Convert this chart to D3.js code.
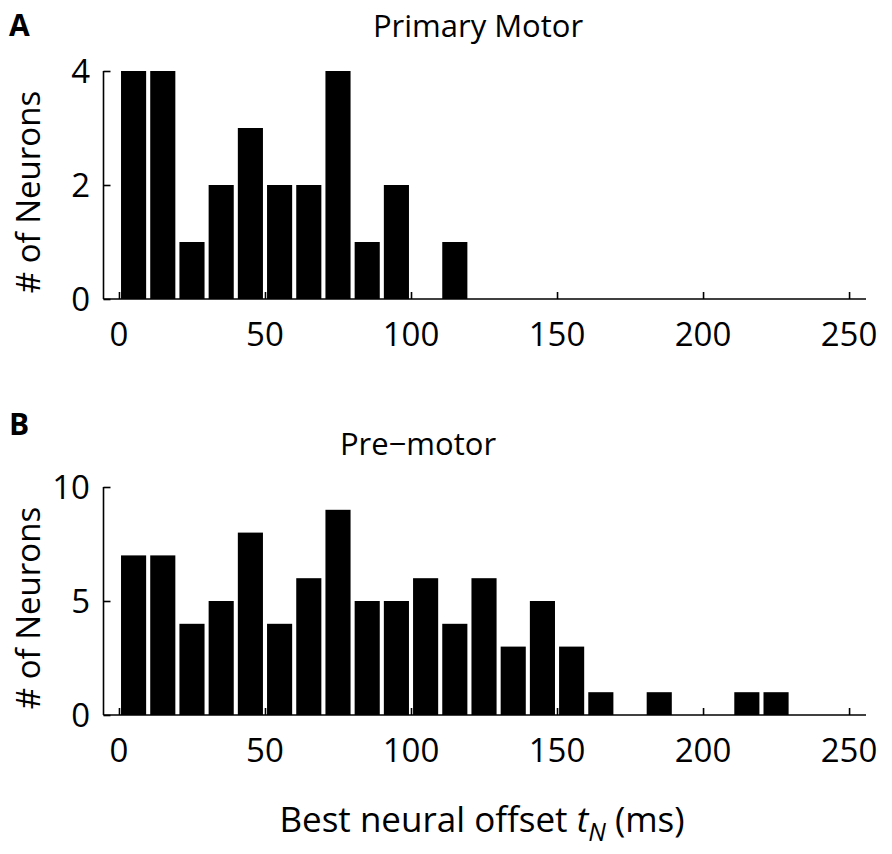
<!DOCTYPE html>
<html>
<head>
<meta charset="utf-8">
<script src="https://cdn.jsdelivr.net/npm/d3@7"></script>
<style>
  body { margin: 0; background: #fff; }
  svg { display: block; font-family: "Open Sans", sans-serif; }
</style>
</head>
<body>
<svg id="chart" width="892" height="854"></svg>
<script>
// histogram bins are 10 ms wide, starting at 0
const binStarts = d3.range(0, 230, 10);
const primaryCounts = [4, 4, 1, 2, 3, 2, 2, 4, 1, 2, 0, 1];
const premotorCounts = [7, 7, 4, 5, 8, 4, 6, 9, 5, 5, 6, 4, 6, 3, 5, 3, 1, 0, 1, 0, 0, 1, 1];
const xTicks = [0, 50, 100, 150, 200, 250];
const primaryTicks = [0, 2, 4];
const premotorTicks = [0, 5, 10];

const svg = d3.select("#chart");
const binWidth = 10;
const x = d3.scaleLinear().domain([-5.3, 255.8]).range([103.5, 866]);

function panel(opts) {
  const y = d3.scaleLinear().domain(opts.ylim).range([opts.bottom, opts.bottom - 228]);
  const g = svg.append("g");

  const bins = opts.counts.map((c, i) => ({ x0: binStarts[i], n: c })).filter(d => d.n > 0);
  const barW = (x(binWidth) - x(0)) * 0.86;

  g.selectAll(".bar")
    .data(bins)
    .join("rect")
    .attr("class", "bar")
    .attr("x", d => x(d.x0 + binWidth / 2) - barW / 2)
    .attr("width", barW)
    .attr("y", d => y(d.n))
    .attr("height", d => y(0) - y(d.n))
    .attr("fill", "#000");

  // ticks point inward like the original
  const xAxis = d3.axisTop(x).tickValues(xTicks).tickSize(7).tickFormat("");
  g.append("g").attr("transform", `translate(0,${y(0)})`).call(xAxis)
    .call(s => s.select(".domain").attr("d", `M${x.range()[0]},0H${x.range()[1]}`));

  const yAxis = d3.axisRight(y).tickValues(opts.yticks).tickSize(7).tickFormat("");
  g.append("g").attr("transform", `translate(${x.range()[0]},0)`).call(yAxis)
    .call(s => s.select(".domain").attr("d", `M0,${y.range()[0]}V${y.range()[1]}`));

  g.selectAll(".domain, .tick line").attr("stroke", "#000").attr("stroke-width", 1.6);

  g.selectAll(".xlab")
    .data(xTicks)
    .join("text")
    .attr("class", "xlab")
    .attr("x", d => x(d))
    .attr("y", y(0) + 47)
    .attr("text-anchor", "middle")
    .attr("font-size", 33)
    .text(d => d);

  g.selectAll(".ylab")
    .data(opts.yticks)
    .join("text")
    .attr("class", "ylab")
    .attr("x", 90)
    .attr("y", d => y(d) + 12)
    .attr("text-anchor", "end")
    .attr("font-size", 33)
    .text(d => d);

  g.append("text")
    .attr("transform", `translate(40,${opts.bottom - 107}) rotate(-90)`)
    .attr("text-anchor", "middle")
    .attr("font-size", 33)
    .text("# of Neurons");

  g.append("text")
    .attr("x", opts.titleX)
    .attr("y", opts.titleY)
    .attr("text-anchor", "middle")
    .attr("font-size", 31)
    .text(opts.title);

  g.append("text")
    .attr("x", 9)
    .attr("y", opts.letterY)
    .attr("font-size", 30)
    .attr("font-weight", "bold")
    .text(opts.letter);
}

panel({ counts: primaryCounts, ylim: [0, 4], yticks: primaryTicks, bottom: 299,
  title: "Primary Motor", titleX: 478, titleY: 37, letter: "A", letterY: 36 });
panel({ counts: premotorCounts, ylim: [0, 10], yticks: premotorTicks, bottom: 715,
  title: "Pre\u2212motor", titleX: 418, titleY: 455, letter: "B", letterY: 435 });

const xl = svg.append("text")
  .attr("x", 482)
  .attr("y", 832)
  .attr("text-anchor", "middle")
  .attr("font-size", 35);
xl.append("tspan").text("Best neural offset ");
xl.append("tspan").attr("font-style", "italic").text("t");
xl.append("tspan").attr("font-style", "italic").attr("font-size", 25).attr("dy", 9).text("N");
xl.append("tspan").attr("dy", -9).text(" (ms)");
</script>
</body>
</html>
